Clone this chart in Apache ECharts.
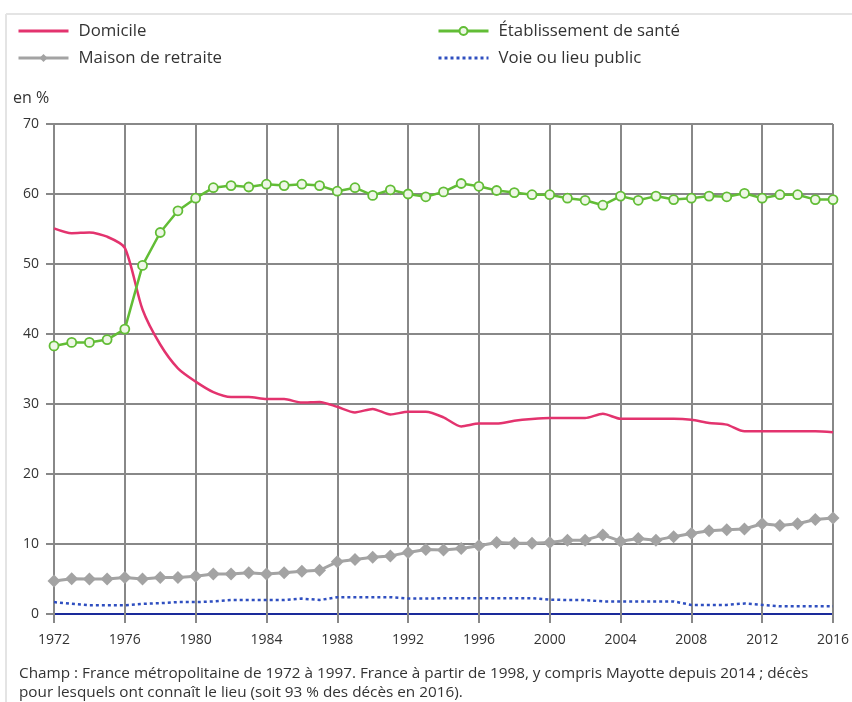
<!DOCTYPE html>
<html>
<head>
<meta charset="utf-8">
<script src="https://cdn.jsdelivr.net/npm/echarts@6/dist/echarts.min.js"></script>
<style>html,body{margin:0;padding:0;background:#fff;}#c{width:852px;height:702px;}</style>
</head>
<body>
<div id="c"></div>
<script>
const years = [1972,1973,1974,1975,1976,1977,1978,1979,1980,1981,1982,1983,1984,1985,1986,1987,1988,1989,1990,1991,1992,1993,1994,1995,1996,1997,1998,1999,2000,2001,2002,2003,2004,2005,2006,2007,2008,2009,2010,2011,2012,2013,2014,2015,2016];
const domicile = [55.1,54.4,54.5,53.9,52.3,43.5,38.5,35.1,33.2,31.7,31.0,31.0,30.7,30.7,30.2,30.3,29.6,28.8,29.3,28.5,28.9,28.9,28.1,26.8,27.2,27.2,27.6,27.85,28.0,28.0,28.0,28.6,27.9,27.9,27.9,27.9,27.75,27.3,27.05,26.1,26.1,26.1,26.1,26.1,25.95];
const etablissement = [38.3,38.8,38.8,39.2,40.7,49.8,54.5,57.6,59.4,60.9,61.2,61.0,61.4,61.2,61.4,61.2,60.4,60.9,59.8,60.6,60.0,59.6,60.3,61.5,61.1,60.5,60.2,59.9,59.9,59.4,59.1,58.4,59.7,59.1,59.7,59.2,59.4,59.7,59.6,60.1,59.4,59.9,59.9,59.2,59.2];
const maison = [4.7,5.05,5.0,5.0,5.2,5.0,5.2,5.2,5.4,5.7,5.7,5.9,5.7,5.9,6.1,6.25,7.45,7.8,8.1,8.3,8.8,9.2,9.15,9.35,9.75,10.2,10.1,10.1,10.2,10.55,10.55,11.3,10.4,10.8,10.55,11.05,11.5,11.9,12.05,12.15,12.9,12.65,12.9,13.5,13.7];
const voie = [1.7,1.45,1.25,1.25,1.25,1.45,1.55,1.7,1.7,1.8,2.0,2.0,2.0,2.0,2.2,2.0,2.4,2.4,2.4,2.4,2.2,2.2,2.25,2.25,2.25,2.25,2.25,2.25,2.05,2.0,2.0,1.8,1.8,1.8,1.8,1.8,1.3,1.3,1.3,1.5,1.3,1.1,1.1,1.1,1.1];
const yTicks = [0,10,20,30,40,50,60,70];
const names = ['Domicile','Établissement de santé','Maison de retraite','Voie ou lieu public'];
const footnote = 'Champ : France métropolitaine de 1972 à 1997. France à partir de 1998, y compris Mayotte depuis 2014 ; décès\npour lesquels ont connaît le lieu (soit 93 % des décès en 2016).';
const unit = 'en %';

const pair = arr => years.map((y,i)=>[y,arr[i]]);
const FONT = '"Open Sans", "Noto Sans", sans-serif';
const TXT = '#333';
const hideSym = {color:'rgba(0,0,0,0)', borderColor:'rgba(0,0,0,0)', borderWidth:0, opacity:0};
const legText = {fontSize:16.8, color:TXT, fontFamily:FONT, lineHeight:18, padding:[0,0,0,5]};

const chart = echarts.init(document.getElementById('c'), null, {renderer:'canvas'});
chart.setOption({
  animation:false,
  backgroundColor:'#fff',
  textStyle:{fontFamily:FONT},
  title:[
    {text:footnote, left:14, top:659, textStyle:{fontSize:15.3, fontWeight:'normal', color:TXT, lineHeight:19, fontFamily:FONT}},
    {text:unit, left:8, top:85, textStyle:{fontSize:16, fontWeight:'normal', color:TXT, fontFamily:FONT}}
  ],
  legend:[
    {data:[{name:names[0], itemStyle:hideSym},{name:names[2]}], orient:'vertical', left:12, top:17, itemWidth:50, itemHeight:10, itemGap:9,
     lineStyle:{width:3}, textStyle:legText},
    {data:[{name:names[1]},{name:names[3], itemStyle:hideSym}], orient:'vertical', left:432, top:17, itemWidth:50, itemHeight:10, itemGap:9,
     lineStyle:{width:3}, textStyle:legText}
  ],
  graphic:[
    {type:'line', shape:{x1:6,y1:14,x2:852,y2:14}, style:{stroke:'#e4e4e4', lineWidth:2}, silent:true},
    {type:'line', shape:{x1:6,y1:14,x2:6,y2:702}, style:{stroke:'#e4e4e4', lineWidth:2}, silent:true}
  ],
  grid:{left:54, right:16, top:124, bottom:88, containLabel:false},
  xAxis:[
    {type:'value', min:1972, max:2016, interval:4,
     axisLine:{show:true, onZero:false, lineStyle:{color:'#1a2a9a', width:2}},
     axisTick:{show:true, length:9, lineStyle:{color:'#888', width:2}},
     axisLabel:{color:TXT, fontSize:14, margin:19, fontFamily:FONT, formatter:v=>String(v)},
     splitLine:{show:true, lineStyle:{color:'#888', width:2}}},
    {type:'value', position:'top', min:1972, max:2016, interval:4,
     axisLine:{show:false}, axisTick:{show:true, length:8, lineStyle:{color:'#888', width:2}},
     axisLabel:{show:false}, splitLine:{show:false}}
  ],
  yAxis:{type:'value', min:yTicks[0], max:yTicks[yTicks.length-1], interval:10,
     axisLine:{show:false},
     axisTick:{show:true, length:8, lineStyle:{color:'#888', width:2}},
     axisLabel:{color:TXT, fontSize:14, margin:15, fontFamily:FONT},
     splitLine:{show:true, lineStyle:{color:'#888', width:2}}},
  series:[
    {name:names[0], type:'line', data:pair(domicile), symbol:'none', smooth:0.25,
     lineStyle:{color:'#e3336e', width:2.5}, itemStyle:{color:'#e3336e'}, z:3},
    {name:names[1], type:'line', data:pair(etablissement), symbol:'circle', symbolSize:9, showSymbol:true,
     lineStyle:{color:'#62bd36', width:2.5}, itemStyle:{color:'#eef7e6', borderColor:'#62bd36', borderWidth:1.8}, z:4},
    {name:names[2], type:'line', data:pair(maison), symbol:'diamond', symbolSize:13,
     lineStyle:{color:'#a3a3a3', width:3}, itemStyle:{color:'#a3a3a3'}, z:3},
    {name:names[3], type:'line', data:pair(voie), symbol:'none',
     lineStyle:{color:'#2f4fc0', width:2.5, type:[3,3]}, itemStyle:{color:'#2f4fc0'}, z:3}
  ]
});
</script>
</body>
</html>
